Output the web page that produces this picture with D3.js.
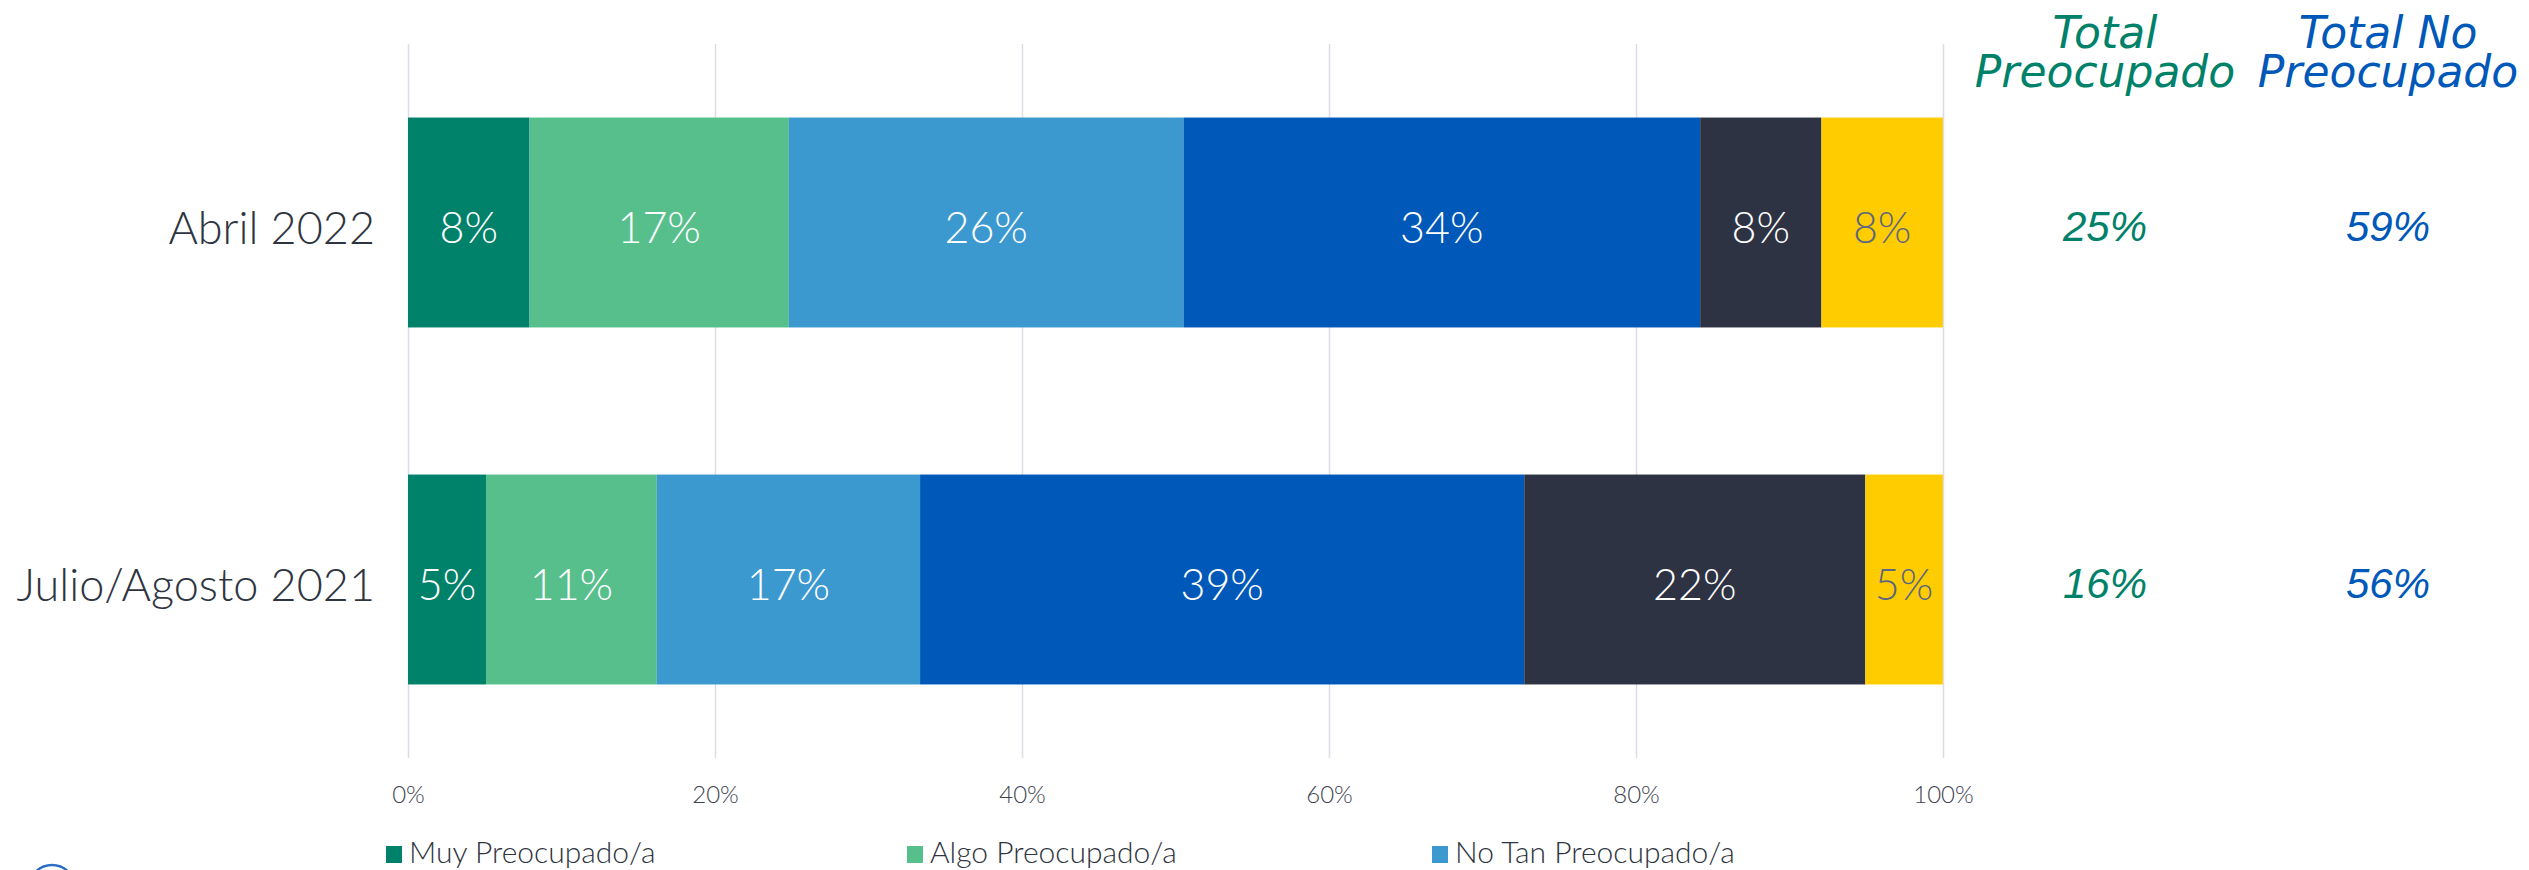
<!DOCTYPE html>
<html>
<head>
<meta charset="utf-8">
<script src="https://cdn.jsdelivr.net/npm/d3@7"></script>
<style>
  html, body { margin: 0; padding: 0; background: #fff; overflow: hidden; }
  svg { display: block; }
</style>
</head>
<body>
<svg id="chart" width="2529" height="870"></svg>
<script>
// ---------------- DATA ----------------
const categories = ["Abril 2022", "Julio/Agosto 2021"];
const seriesKeys = ["muy", "algo", "noTan", "nada", "s5", "s6"];
const muyPreocupado   = [7.92, 5.08];
const algoPreocupado  = [16.89, 11.13];
const noTanPreocupado = [25.71, 17.15];
const nadaPreocupado  = [33.66, 39.36];
const serie5          = [7.90, 22.22];
const serie6          = [7.91, 5.05];
const seriesColors = ["#00816A", "#57BF8C", "#3C99D0", "#0058B8", "#2E3343", "#FFCC00"];
const legendLabels = ["Muy Preocupado/a", "Algo Preocupado/a", "No Tan Preocupado/a"];
const totalPreocupado   = [25, 16];
const totalNoPreocupado = [59, 56];
const totalHeaders = [["Total", "Preocupado"], ["Total No", "Preocupado"]];
const xTicks = [0, 20, 40, 60, 80, 100];

// ---------------- BUILD ----------------
const rows = categories.map((c, i) => ({
  cat: c,
  muy: muyPreocupado[i], algo: algoPreocupado[i], noTan: noTanPreocupado[i],
  nada: nadaPreocupado[i], s5: serie5[i], s6: serie6[i]
}));
const stack = d3.stack().keys(seriesKeys)(rows);

const svg = d3.select("#chart");
const plotTop = 44, plotBottom = 758;
const x = d3.scaleLinear().domain([0, 100]).range([408, 1943]);
const y = d3.scaleBand().domain(categories).range([plotTop, plotBottom])
  .paddingInner(0.412).paddingOuter(0.206);
const color = d3.scaleOrdinal().domain(seriesKeys).range(seriesColors);

const lightFont = "Lato, 'Open Sans', sans-serif";

// gridlines
const grid = svg.append("g")
  .attr("transform", `translate(0,${plotTop})`)
  .call(d3.axisTop(x).tickValues(xTicks).tickSize(-(plotBottom - plotTop)).tickFormat(""));
grid.select(".domain").remove();
grid.selectAll("line").attr("stroke", "#DADDE5").attr("stroke-width", 1.5);

// x-axis labels
const xAxis = svg.append("g")
  .attr("transform", `translate(0,${plotBottom})`)
  .call(d3.axisBottom(x).tickValues(xTicks).tickSize(0).tickPadding(28).tickFormat(d => d + "%"));
xAxis.select(".domain").remove();
xAxis.selectAll("text")
  .attr("font-family", lightFont).attr("font-weight", 300)
  .attr("font-size", 24).attr("fill", "#3E4352");

// category labels
const yAxis = svg.append("g")
  .attr("transform", `translate(${x(0)},0)`)
  .call(d3.axisLeft(y).tickSize(0).tickPadding(33));
yAxis.select(".domain").remove();
yAxis.selectAll("text")
  .attr("font-family", lightFont).attr("font-weight", 300)
  .attr("font-size", 45).attr("fill", "#2E3440")
  .attr("dy", null).attr("dominant-baseline", "central").attr("y", 4);

// bars
const layers = svg.append("g").selectAll("g").data(stack).join("g")
  .attr("fill", d => color(d.key));
layers.selectAll("rect").data(d => d).join("rect")
  .attr("x", d => x(d[0]))
  .attr("width", d => x(d[1]) - x(d[0]))
  .attr("y", d => y(d.data.cat))
  .attr("height", y.bandwidth());

// segment labels
const labelLayers = svg.append("g").selectAll("g").data(stack).join("g");
labelLayers.selectAll("text").data(d => d.map(v => ({ v, key: d.key }))).join("text")
  .attr("x", d => (x(d.v[0]) + x(d.v[1])) / 2)
  .attr("y", d => y(d.v.data.cat) + y.bandwidth() / 2 + 4)
  .attr("text-anchor", "middle")
  .attr("dominant-baseline", "central")
  .attr("font-family", lightFont).attr("font-weight", 300)
  .attr("font-size", 43)
  .attr("fill", d => d.key === "s6" ? "#5B6680" : "#FFFFFF")
  .text(d => Math.round(d.v[1] - d.v[0]) + "%");

// total columns
const totalX = [2105, 2388];
const totalColors = ["#00816A", "#0058B8"];
const totals = [totalPreocupado, totalNoPreocupado];
totalHeaders.forEach((lines, j) => {
  const t = svg.append("text")
    .attr("text-anchor", "middle")
    .attr("font-family", "'DejaVu Sans', sans-serif")
    .attr("font-style", "italic")
    .attr("font-size", 44)
    .attr("fill", totalColors[j]);
  lines.forEach((ln, k) => {
    t.append("tspan").attr("x", totalX[j]).attr("y", 48 + k * 39).text(ln);
  });
  svg.append("g").selectAll("text").data(categories).join("text")
    .attr("x", totalX[j])
    .attr("y", (d) => y(d) + y.bandwidth() / 2 + 4)
    .attr("text-anchor", "middle")
    .attr("dominant-baseline", "central")
    .attr("font-family", "'Liberation Sans', Arial, sans-serif")
    .attr("font-style", "italic")
    .attr("font-size", 42)
    .attr("fill", totalColors[j])
    .text((d, i) => totals[j][i] + "%");
});

// legend (only first row visible in frame)
const legendX = [386, 907, 1432];
const lg = svg.append("g").selectAll("g").data(legendLabels).join("g")
  .attr("transform", (d, i) => `translate(${legendX[i]},846)`);
lg.append("rect").attr("width", 16).attr("height", 17)
  .attr("fill", (d, i) => seriesColors[i]);
lg.append("text").attr("x", 23).attr("y", 17)
  .attr("font-family", lightFont).attr("font-weight", 300)
  .attr("font-size", 30).attr("fill", "#2E3440")
  .text(d => d);

// partial logo at bottom-left
const logo = svg.append("g").attr("transform", "translate(52,888)");
logo.append("circle").attr("r", 23).attr("fill", "none").attr("stroke", "#2A6FC4").attr("stroke-width", 2.5);
logo.append("circle").attr("r", 18).attr("fill", "#FFD54A");
</script>
</body>
</html>
